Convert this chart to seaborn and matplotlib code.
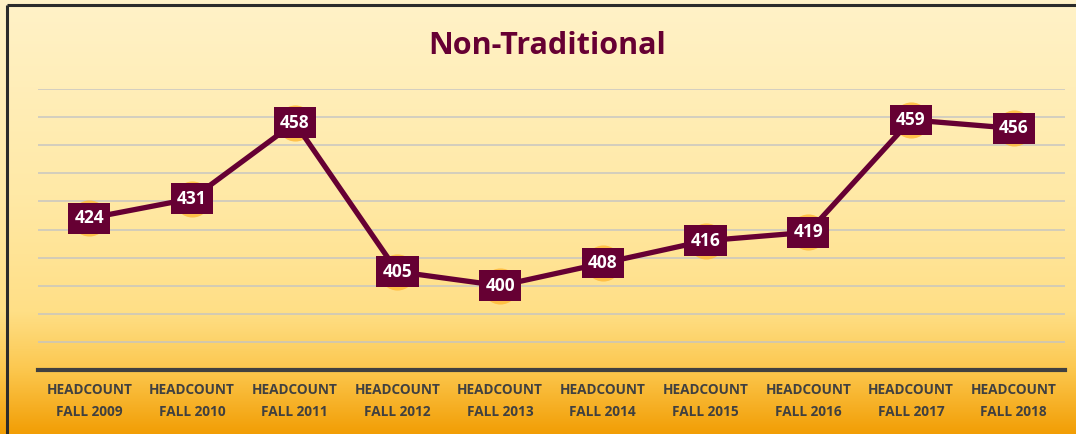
import numpy as np
import pandas as pd
import matplotlib
matplotlib.use("Agg")
import matplotlib.pyplot as plt
import seaborn as sns
from matplotlib.colors import LinearSegmentedColormap

categories = ["HEADCOUNT\nFALL 2009", "HEADCOUNT\nFALL 2010", "HEADCOUNT\nFALL 2011",
              "HEADCOUNT\nFALL 2012", "HEADCOUNT\nFALL 2013", "HEADCOUNT\nFALL 2014",
              "HEADCOUNT\nFALL 2015", "HEADCOUNT\nFALL 2016", "HEADCOUNT\nFALL 2017",
              "HEADCOUNT\nFALL 2018"]
values = [424, 431, 458, 405, 400, 408, 416, 419, 459, 456]
title = "Non-Traditional"

sns.set_style("white")
plt.rcParams['font.family'] = ['Open Sans', 'DejaVu Sans']

W, H = 1076, 434
fig = plt.figure(figsize=(W / 100, H / 100), dpi=100)

# background gradient
bg = fig.add_axes([0, 0, 1, 1], zorder=0)
cmap = LinearSegmentedColormap.from_list(
    "bg", [(0.0, "#FFF2C8"), (0.45, "#FFE9A6"), (0.72, "#FFDF86"),
           (0.85, "#FCC850"), (1.0, "#F29E05")])
grad = np.linspace(0, 1, 256).reshape(-1, 1)
bg.imshow(grad, aspect="auto", cmap=cmap, extent=[0, 1, 0, 1], origin="upper")
bg.set_xlim(0, 1); bg.set_ylim(0, 1)
bg.axis("off")
# frame at top/left
bg.plot([6.5 / W, 6.5 / W], [0, 1 - 5 / H], color="#2b2b2b", lw=2.2, solid_capstyle="butt")
bg.plot([6.5 / W, 1], [1 - 5 / H, 1 - 5 / H], color="#2b2b2b", lw=2.2, solid_capstyle="butt")

ax = fig.add_axes([38 / W, 1 - 370 / H, (1065 - 38) / W, (370 - 89) / H], zorder=2)
ax.patch.set_alpha(0)

df = pd.DataFrame({"x": np.arange(len(values)), "v": values})
sns.scatterplot(data=df, x="x", y="v", ax=ax, s=26 ** 2, color="#FFBA3A",
                alpha=0.85, linewidth=0, zorder=2.5)
sns.lineplot(data=df, x="x", y="v", ax=ax, color="#660033", lw=3.8, zorder=3)

for xi, v in zip(df["x"], df["v"]):
    ax.text(xi, v, str(v), ha="center", va="center", color="white",
            fontsize=12.5, fontweight="bold", zorder=5,
            bbox=dict(boxstyle="square,pad=0.36", fc="#660033", ec="none"))

ax.set_xlim(-0.5, len(values) - 0.5)
ax.set_ylim(370, 470)
ax.set_yticks(np.arange(380, 471, 10))
ax.yaxis.grid(True, color="#c4c4c4", lw=1.3, alpha=0.8)
ax.set_axisbelow(True)
ax.tick_params(axis="y", left=False, labelleft=False)
ax.set_xticks(df["x"])
ax.set_xticklabels(categories, fontsize=9.8, fontweight="bold", color="#404040",
                   linespacing=1.8)
ax.tick_params(axis="x", length=0, pad=9)
ax.set_xlabel(""); ax.set_ylabel("")
for s in ["top", "right", "left"]:
    ax.spines[s].set_visible(False)
ax.spines["bottom"].set_color("#404040")
ax.spines["bottom"].set_linewidth(3)

fig.text(547 / W, 1 - 46 / H, title, ha="center", va="center", fontsize=22,
         fontweight="bold", color="#660033")

fig.savefig("out.png", dpi=100)
